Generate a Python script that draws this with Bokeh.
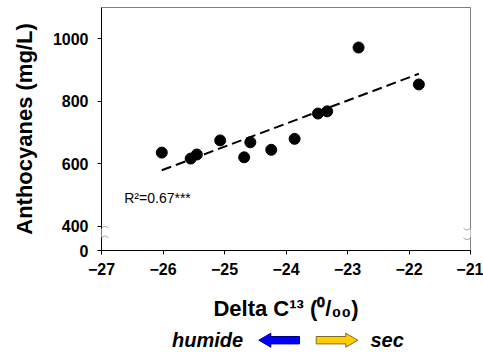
import numpy as np
from bokeh.plotting import figure
from bokeh.layouts import column
from bokeh.models import Range1d, FixedTicker, Label, PolyAnnotation
from bokeh.core.properties import value
from bokeh.embed import file_html
from bokeh.resources import INLINE

# ---- data ----
delta_c13 = [-26.02, -25.55, -25.45, -25.07, -24.68, -24.58, -24.24, -23.86, -23.48, -23.33, -22.82, -21.84]
anthocyanes = [636, 617, 630, 675, 621, 669, 645, 680, 761, 768, 972, 854]

x_ticks = [-27, -26, -25, -24, -23, -22, -21]
y_ticks = [323, 400, 600, 800, 1000]
y_tick_labels = ["0", "400", "600", "800", "1000"]
r2_text = "R²=0.67***"
direction_labels = ["humide", "sec"]

FONT = "Liberation Sans"

# regression line from the data
slope, intercept = np.polyfit(delta_c13, anthocyanes, 1)
fit_x = [min(delta_c13), max(delta_c13)]
fit_y = [slope * v + intercept for v in fit_x]

X0, X1, Y0, Y1 = -27, -21, 323, 1100
FL, FR, FT, FB = 101, 470, 7, 250   # frame edges in page pixels
H1 = 325
p = figure(width=483, height=H1, output_backend="svg", toolbar_location=None,
           x_range=Range1d(X0, X1), y_range=Range1d(Y0, Y1),
           min_border_left=FL, min_border_right=483 - FR, min_border_top=FT,
           min_border_bottom=H1 - FB)
p.background_fill_color = "white"
p.border_fill_color = "white"
p.outline_line_color = "#808080"
p.outline_line_width = 1
p.grid.visible = False

def dx(px):
    return X0 + (px - FL) * (X1 - X0) / (FR - FL)
def dy(py):
    return Y0 + (FB - py) * (Y1 - Y0) / (FB - FT)

p.line(fit_x, fit_y, line_color="black", line_width=2, line_dash="10 5")
p.scatter(delta_c13, anthocyanes, size=11, color="black")

p.xaxis.ticker = FixedTicker(ticks=x_ticks)
p.yaxis.ticker = FixedTicker(ticks=y_ticks)
p.yaxis.major_label_overrides = dict(zip(y_ticks, y_tick_labels))
for ax in (p.xaxis, p.yaxis):
    ax.axis_line_color = "black"
    ax.axis_line_width = 1
    ax.major_tick_line_color = "black"
    ax.major_tick_in = 0
    ax.major_tick_out = 4
    ax.minor_tick_line_color = None
    ax.major_label_text_font = FONT
    ax.major_label_text_font_style = "bold"
    ax.major_label_text_font_size = "16px"
    ax.major_label_text_color = "black"
    ax.axis_label_text_font = FONT
    ax.axis_label_text_font_style = "bold"
    ax.axis_label_text_font_size = "22px"
    ax.axis_label_text_color = "black"

p.yaxis.axis_label = "Anthocyanes (mg/L)"
p.yaxis.major_label_standoff = 9
p.yaxis.axis_label_standoff = 13
p.xaxis.axis_label = "Delta C¹³ (⁰/₀₀)"
p.xaxis.major_label_standoff = 8
p.xaxis.axis_label_standoff = 18

p.add_layout(Label(x=-26.63, y=491, text=r2_text, text_font=FONT,
                   text_font_size="14px", text_color="black", text_baseline="alphabetic"))

# axis break marks (left and right): white gap + two squiggles
t = np.linspace(-1, 1, 13)
for xpix in (FL, FR):
    p.add_layout(PolyAnnotation(xs=[dx(xpix - 3), dx(xpix + 3), dx(xpix + 3), dx(xpix - 3)],
                                ys=[dy(228), dy(228), dy(237), dy(237)],
                                fill_color="white", fill_alpha=1, line_color=None))
    for ypix in (227.7, 237.3):
        sx = [dx(xpix + 7 * v) for v in t]
        sy = [dy(ypix - 1.8 * np.sin(v * np.pi)) for v in t]
        p.add_layout(PolyAnnotation(xs=sx + sx[::-1], ys=sy + sy[::-1], fill_alpha=0,
                                    line_color="#606060", line_width=1))

# ---- strip: humide <- -> sec  (x data == page pixels, y data == pixels up from page bottom) ----
H2 = 355 - H1
q = figure(width=483, height=H2, output_backend="svg", toolbar_location=None,
           x_range=Range1d(FL, FR), y_range=Range1d(0, H2),
           min_border_left=FL, min_border_right=483 - FR, min_border_top=0, min_border_bottom=0)
q.axis.visible = False
q.grid.visible = False
q.outline_line_color = None
q.border_fill_color = "white"
q.background_fill_color = "white"

c = 355 - 339.7
def arrow(tail, tip):
    d = 1 if tip > tail else -1
    hb = tip - d * 12
    xs = [tip, hb, hb, tail, tail, hb, hb]
    ys = [c, c + 7, c + 3.7, c + 3.7, c - 3.7, c - 3.7, c - 7]
    return xs, ys

bx, by = arrow(299, 258.3)
yx, yy = arrow(315.7, 357.3)
q.patch(bx, by, fill_color="#0000ff", line_color="#000080", line_width=1)
q.patch(yx, yy, fill_color="#ffcc00", line_color="#7a6a30", line_width=1)
q.text(x=[171.5, 370], y=[c, c], text=direction_labels, text_font=value(FONT),
       text_font_style="bold italic", text_font_size="20px", text_color="black",
       text_baseline="middle", text_align="left")

layout = column(p, q, spacing=0)
open("out.html", "w").write(file_html(layout, INLINE))
